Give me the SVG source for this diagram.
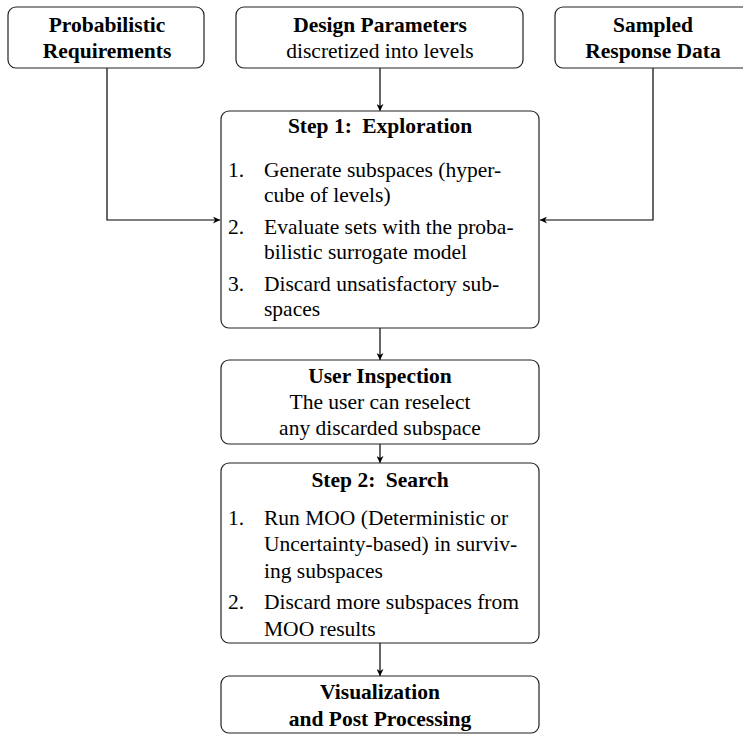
<svg xmlns="http://www.w3.org/2000/svg" width="743" height="734" viewBox="0 0 743 734">
<defs>
<style>
.box{fill:#fff;stroke:#222;stroke-width:1.2}
.t{font-family:"Liberation Serif","Times New Roman",serif;font-size:21.5px;fill:#000}
.b{font-weight:bold}
.c{text-anchor:middle}
.ln{fill:none;stroke:#000;stroke-width:1.2}
</style>
<marker id="ah" viewBox="0 0 10 10" refX="10" refY="5" markerWidth="7" markerHeight="7" orient="auto" markerUnits="userSpaceOnUse">
<path d="M0,0 L10,5 L0,10 L3,5 Z" fill="#000"/>
</marker>
</defs>
<rect width="743" height="734" fill="#fff"/>
<g id="connectors">
<path class="ln" d="M107,68 V220 H220" marker-end="url(#ah)"/>
<path class="ln" d="M653,68 V220 H540" marker-end="url(#ah)"/>
<path class="ln" d="M380,68 V111" marker-end="url(#ah)"/>
<path class="ln" d="M380,328 V360" marker-end="url(#ah)"/>
<path class="ln" d="M380,444 V463" marker-end="url(#ah)"/>
<path class="ln" d="M380,643 V676" marker-end="url(#ah)"/>
</g>
<g id="prob-req">
<rect class="box" x="8" y="7" width="196" height="61" rx="8"/>
<text class="t b c" x="107" y="32">Probabilistic</text>
<text class="t b c" x="107" y="58">Requirements</text>
</g>
<g id="design-params">
<rect class="box" x="236" y="7" width="287" height="61" rx="8"/>
<text class="t b c" x="380" y="32">Design Parameters</text>
<text class="t c" x="380" y="58">discretized into levels</text>
</g>
<g id="sampled-data">
<rect class="box" x="555" y="7" width="196" height="61" rx="8"/>
<text class="t b c" x="653" y="32">Sampled</text>
<text class="t b c" x="653" y="58">Response Data</text>
</g>
<g id="step1">
<rect class="box" x="221" y="111" width="318" height="217" rx="8"/>
<text class="t b c" x="380" y="133">Step 1:<tspan dx="5"> Exploration</tspan></text>
<text class="t" x="228" y="177">1.</text>
<text class="t" x="264" y="177">Generate subspaces (hyper-</text>
<text class="t" x="264" y="202">cube of levels)</text>
<text class="t" x="228" y="234">2.</text>
<text class="t" x="264" y="234">Evaluate sets with the proba-</text>
<text class="t" x="264" y="259">bilistic surrogate model</text>
<text class="t" x="228" y="291">3.</text>
<text class="t" x="264" y="291">Discard unsatisfactory sub-</text>
<text class="t" x="264" y="316">spaces</text>
</g>
<g id="user-inspection">
<rect class="box" x="221" y="360" width="318" height="84" rx="8"/>
<text class="t b c" x="380" y="383">User Inspection</text>
<text class="t c" x="380" y="409">The user can reselect</text>
<text class="t c" x="380" y="435">any discarded subspace</text>
</g>
<g id="step2">
<rect class="box" x="221" y="463" width="318" height="180" rx="8"/>
<text class="t b c" x="380" y="487">Step 2:<tspan dx="5"> Search</tspan></text>
<text class="t" x="228" y="525">1.</text>
<text class="t" x="264" y="525">Run MOO (Deterministic or</text>
<text class="t" x="264" y="551">Uncertainty-based) in surviv-</text>
<text class="t" x="264" y="578">ing subspaces</text>
<text class="t" x="228" y="609">2.</text>
<text class="t" x="264" y="609">Discard more subspaces from</text>
<text class="t" x="264" y="636">MOO results</text>
</g>
<g id="visualization">
<rect class="box" x="221" y="676" width="318" height="57" rx="8"/>
<text class="t b c" x="380" y="699">Visualization</text>
<text class="t b c" x="380" y="726">and Post Processing</text>
</g>
</svg>
